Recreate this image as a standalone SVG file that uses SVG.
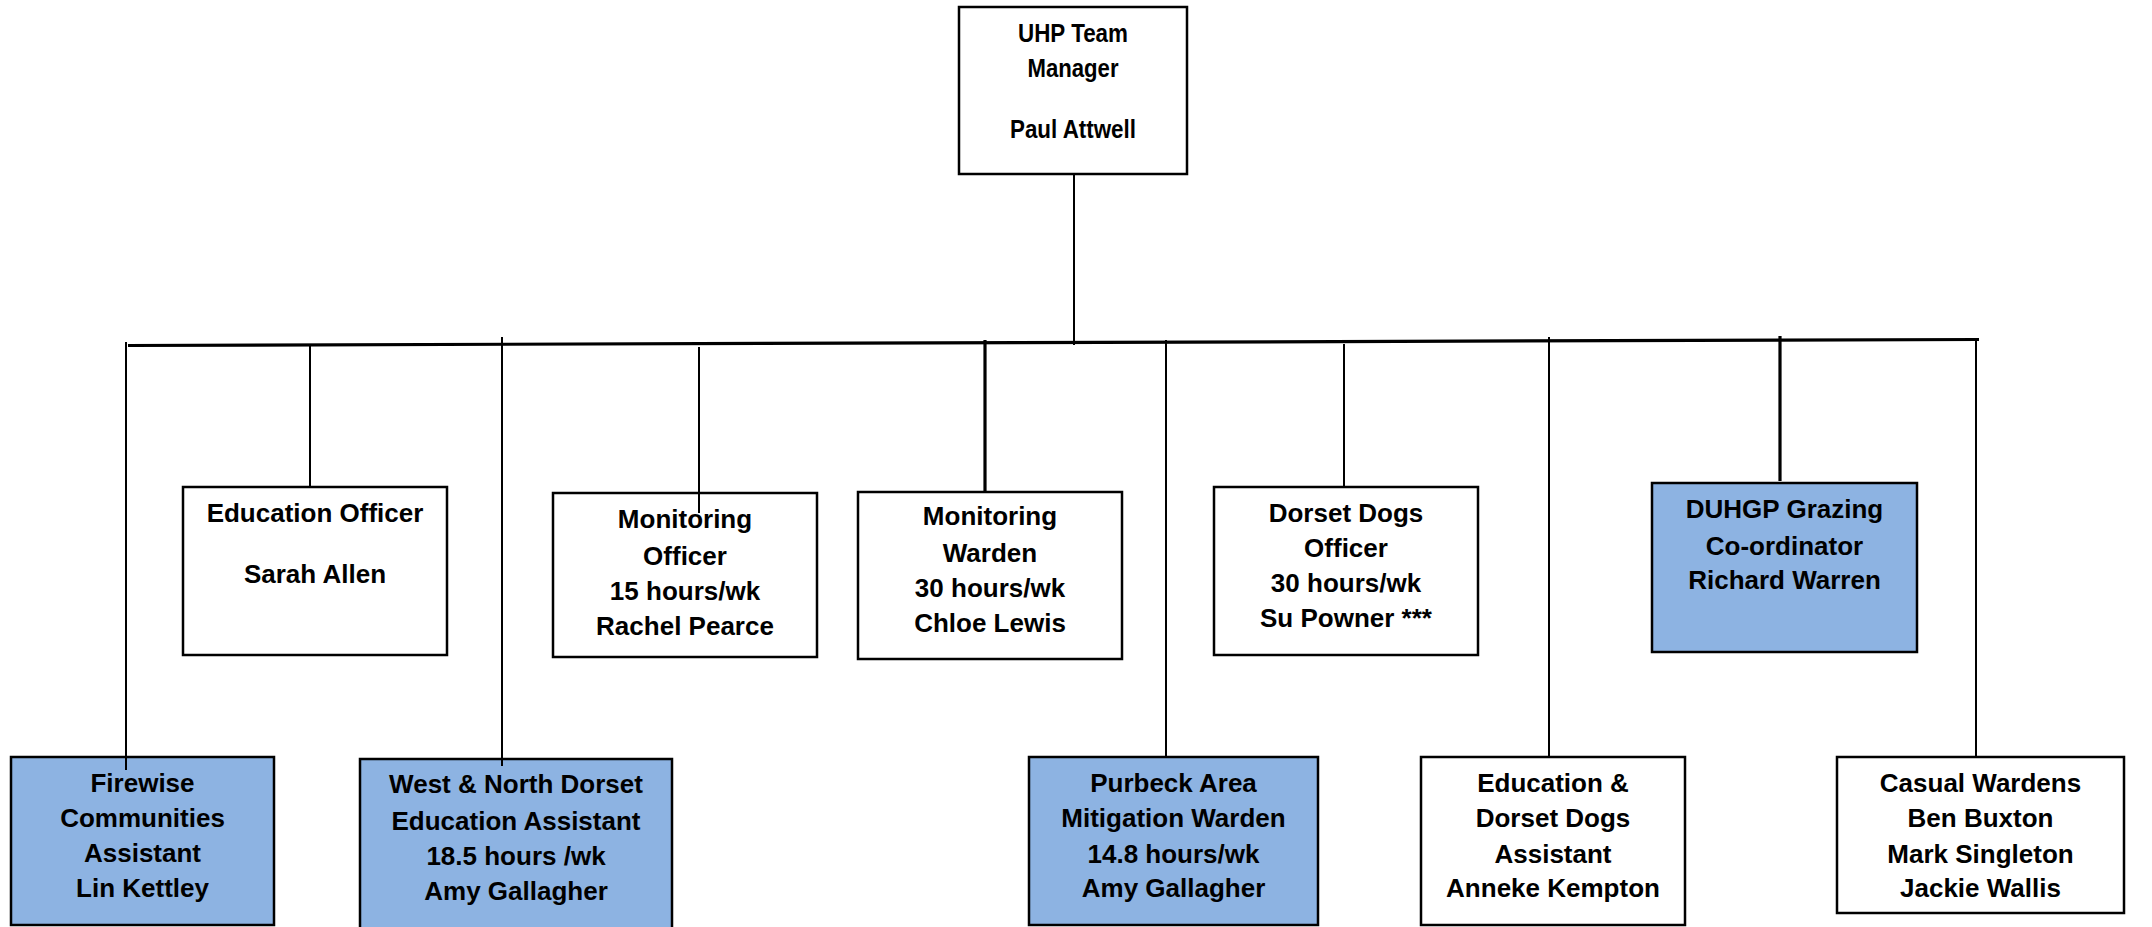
<svg xmlns="http://www.w3.org/2000/svg" width="2152" height="927" viewBox="0 0 2152 927">
<style>
.box{fill:#ffffff;stroke:#000;stroke-width:2.5}
.blue{fill:#8DB3E2;stroke:#000;stroke-width:2.5}
.t{font-family:"Liberation Sans",Arial,Helvetica,sans-serif;font-weight:bold;font-size:26px;fill:#000;text-anchor:middle}
.c{stroke:#000;stroke-width:2;fill:none}
.ct{stroke:#000;stroke-width:3.2;fill:none}
</style>
<rect width="2152" height="927" fill="#fff"/>
<g id="manager">
<rect class="box" x="959" y="7" width="228" height="167"/>
<text class="t" x="1073" y="42" textLength="110" lengthAdjust="spacingAndGlyphs">UHP Team</text>
<text class="t" x="1073" y="77" textLength="91" lengthAdjust="spacingAndGlyphs">Manager</text>
<text class="t" x="1073" y="138" textLength="126" lengthAdjust="spacingAndGlyphs">Paul Attwell</text>
</g>
<g id="education-officer">
<rect class="box" x="183" y="487" width="264" height="168"/>
<text class="t" x="315" y="522">Education Officer</text>
<text class="t" x="315" y="583">Sarah Allen</text>
</g>
<g id="monitoring-officer">
<rect class="box" x="553" y="493" width="264" height="164"/>
<text class="t" x="685" y="528">Monitoring</text>
<text class="t" x="685" y="565">Officer</text>
<text class="t" x="685" y="600">15 hours/wk</text>
<text class="t" x="685" y="635">Rachel Pearce</text>
</g>
<g id="monitoring-warden">
<rect class="box" x="858" y="492" width="264" height="167"/>
<text class="t" x="990" y="525">Monitoring</text>
<text class="t" x="990" y="562">Warden</text>
<text class="t" x="990" y="597">30 hours/wk</text>
<text class="t" x="990" y="632">Chloe Lewis</text>
</g>
<g id="dorset-dogs-officer">
<rect class="box" x="1214" y="487" width="264" height="168"/>
<text class="t" x="1346" y="522">Dorset Dogs</text>
<text class="t" x="1346" y="557">Officer</text>
<text class="t" x="1346" y="592">30 hours/wk</text>
<text class="t" x="1346" y="627">Su Powner ***</text>
</g>
<g id="duhgp">
<rect class="blue" x="1652" y="483" width="265" height="169"/>
<text class="t" x="1784.5" y="518">DUHGP Grazing</text>
<text class="t" x="1784.5" y="555">Co-ordinator</text>
<text class="t" x="1784.5" y="589">Richard Warren</text>
</g>
<g id="firewise">
<rect class="blue" x="11" y="757" width="263" height="168"/>
<text class="t" x="142.5" y="792">Firewise</text>
<text class="t" x="142.5" y="827">Communities</text>
<text class="t" x="142.5" y="862">Assistant</text>
<text class="t" x="142.5" y="897">Lin Kettley</text>
</g>
<g id="west-north">
<rect class="blue" x="360" y="759" width="312" height="172"/>
<text class="t" x="516" y="793">West &amp; North Dorset</text>
<text class="t" x="516" y="830">Education Assistant</text>
<text class="t" x="516" y="865">18.5 hours /wk</text>
<text class="t" x="516" y="900">Amy Gallagher</text>
</g>
<g id="purbeck">
<rect class="blue" x="1029" y="757" width="289" height="168"/>
<text class="t" x="1173.5" y="792">Purbeck Area</text>
<text class="t" x="1173.5" y="827">Mitigation Warden</text>
<text class="t" x="1173.5" y="863">14.8 hours/wk</text>
<text class="t" x="1173.5" y="897">Amy Gallagher</text>
</g>
<g id="education-dorset-dogs">
<rect class="box" x="1421" y="757" width="264" height="168"/>
<text class="t" x="1553" y="792">Education &amp;</text>
<text class="t" x="1553" y="827">Dorset Dogs</text>
<text class="t" x="1553" y="863">Assistant</text>
<text class="t" x="1553" y="897">Anneke Kempton</text>
</g>
<g id="casual-wardens">
<rect class="box" x="1837" y="757" width="287" height="156"/>
<text class="t" x="1980.5" y="792">Casual Wardens</text>
<text class="t" x="1980.5" y="827">Ben Buxton</text>
<text class="t" x="1980.5" y="863">Mark Singleton</text>
<text class="t" x="1980.5" y="897">Jackie Wallis</text>
</g>
<g id="connectors">
<line class="c" x1="1074" y1="174" x2="1074" y2="345"/>
<line class="ct" x1="128" y1="345.5" x2="1979" y2="339.5"/>
<line class="c" x1="126" y1="342" x2="126" y2="770"/>
<line class="c" x1="310" y1="345" x2="310" y2="487"/>
<line class="c" x1="502" y1="337" x2="502" y2="766"/>
<line class="c" x1="699" y1="347" x2="699" y2="513"/>
<line class="ct" x1="985" y1="340" x2="985" y2="492"/>
<line class="c" x1="1166" y1="340" x2="1166" y2="757"/>
<line class="c" x1="1344" y1="344" x2="1344" y2="488"/>
<line class="c" x1="1549" y1="337" x2="1549" y2="757"/>
<line class="ct" x1="1780" y1="336" x2="1780" y2="481"/>
<line class="c" x1="1976" y1="340" x2="1976" y2="757"/>
</g>
</svg>
